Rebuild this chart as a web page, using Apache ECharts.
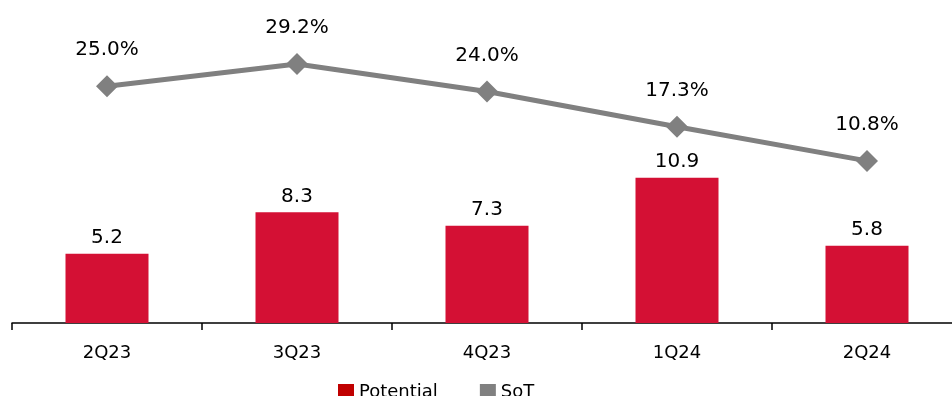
<!DOCTYPE html>
<html>
<head>
<meta charset="utf-8">
<script src="https://cdn.jsdelivr.net/npm/echarts@6/dist/echarts.min.js"></script>
<style>
  html, body { margin: 0; padding: 0; background: #fff; }
  #chart { width: 952px; height: 396px; }
</style>
</head>
<body>
<div id="chart"></div>
<script>
var quarters = ['2Q23', '3Q23', '4Q23', '1Q24', '2Q24'];
var potential = [5.2, 8.3, 7.3, 10.9, 5.8];
var sot = [25.0, 29.2, 24.0, 17.3, 10.8];

var chart = echarts.init(document.getElementById('chart'));
var font = 'DejaVu Sans';

var option = {
  animation: false,
  textStyle: { fontFamily: font },
  // plot area runs a little past the right edge, as in the original
  grid: { left: 12, top: 23, width: 950, height: 300, outerBoundsMode: 'none', containLabel: false },
  legend: {
    bottom: -10,
    left: 333,
    icon: 'rect',
    itemWidth: 16,
    itemHeight: 16,
    itemGap: 42,
    textStyle: { fontFamily: font, fontSize: 18, color: '#000' },
    data: [
      { name: 'Potential', itemStyle: { color: '#C00000' } },
      { name: 'SoT', itemStyle: { color: '#808080' } }
    ]
  },
  xAxis: {
    type: 'category',
    data: quarters,
    axisLine: { lineStyle: { color: '#000', width: 1.5 } },
    axisTick: { show: true, length: 7, lineStyle: { color: '#000', width: 1.5 } },
    axisLabel: { color: '#000', fontSize: 18, margin: 21, fontFamily: font }
  },
  yAxis: [
    { type: 'value', min: 0, max: 22.5, show: false, splitLine: { show: false } },
    { type: 'value', min: -20, max: 37, show: false, splitLine: { show: false } }
  ],
  series: [
    {
      name: 'Potential',
      type: 'bar',
      data: potential,
      barWidth: 83,
      itemStyle: { color: '#D41034' },
      label: {
        show: true,
        position: 'top',
        distance: 6,
        fontSize: 20,
        color: '#000',
        fontFamily: font,
        formatter: function (p) { return p.value.toFixed(1); }
      }
    },
    {
      name: 'SoT',
      type: 'line',
      yAxisIndex: 1,
      data: sot,
      symbol: 'diamond',
      symbolSize: 22,
      lineStyle: { color: '#808080', width: 5 },
      itemStyle: { color: '#808080' },
      label: {
        show: true,
        position: 'top',
        distance: 15,
        fontSize: 20,
        color: '#000',
        fontFamily: font,
        formatter: function (p) { return p.value.toFixed(1) + '%'; }
      }
    }
  ]
};

chart.setOption(option);
</script>
</body>
</html>
